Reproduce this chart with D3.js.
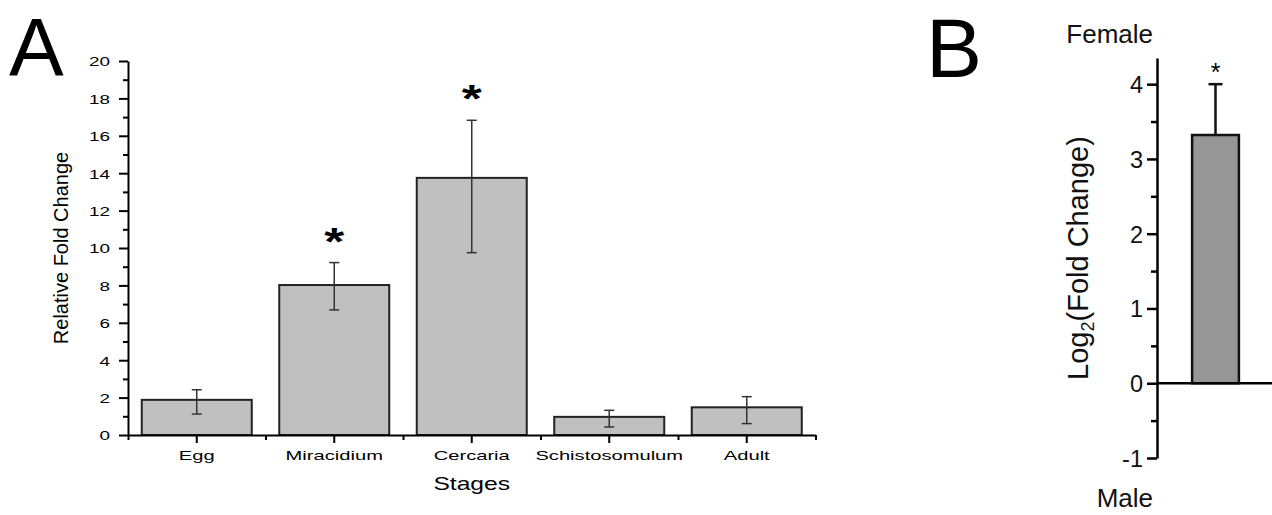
<!DOCTYPE html>
<html>
<head>
<meta charset="utf-8">
<script src="https://cdn.jsdelivr.net/npm/d3@7"></script>
<style>
  body { margin: 0; background: #fff; }
  svg { display: block; font-family: "Liberation Sans", Arial, sans-serif; }
  .axis path, .axis line { stroke: #000; }
</style>
</head>
<body>
<div id="viz"></div>
<script>
// panel A data
var stages = ["Egg", "Miracidium", "Cercaria", "Schistosomulum", "Adult"];
var fold = [1.88, 8.02, 13.75, 0.97, 1.48];
var err_up = [0.54, 1.2, 3.08, 0.35, 0.57];
var err_down = [0.76, 1.33, 4.0, 0.54, 0.87];
var sig = [false, true, true, false, false];
var ticks_a = [0, 2, 4, 6, 8, 10, 12, 14, 16, 18, 20];

// panel B data
var groups_b = ["Female/Male"];
var log2fc = [3.32];
var err_b = [0.68];
var sig_b = [true];
var ticks_b = [-1, 0, 1, 2, 3, 4];

var width = 1272, height = 515;
var svg = d3.select("#viz").append("svg").attr("width", width).attr("height", height);

// text that is wider than the font draws it
function wideText(sel, txt, size, sx, anchor, weight) {
  return sel.append("text")
      .attr("transform", "scale(" + sx + ",1)")
      .style("font-size", size + "px")
      .style("font-weight", weight || "normal")
      .style("fill", "#000")
      .attr("text-anchor", anchor || "middle")
      .text(txt);
}

// ---------- panel A ----------
var xA = d3.scaleBand().domain(stages).range([128, 815.5]).paddingInner(0.2).paddingOuter(0.1);
var xA_minor = d3.scaleLinear().domain([0, stages.length]).range(xA.range());
var yA = d3.scaleLinear().domain([0, 20]).range([435, 61]);

var gA = svg.append("g");

// bars
gA.selectAll(".bar").data(stages).enter().append("rect")
    .attr("class", "bar")
    .attr("x", function(d) { return xA(d); })
    .attr("y", function(d, i) { return yA(fold[i]); })
    .attr("width", xA.bandwidth())
    .attr("height", function(d, i) { return yA(0) - yA(fold[i]); })
    .style("fill", "#c0c0c0")
    .style("stroke", "#222")
    .style("stroke-width", 2);

// error bars
var eb = gA.selectAll(".err").data(stages).enter().append("g")
    .attr("class", "err")
    .attr("transform", function(d) { return "translate(" + (xA(d) + xA.bandwidth() / 2) + ",0)"; })
    .style("stroke", "#333")
    .style("stroke-width", 1.5);
eb.append("line")
    .attr("y1", function(d, i) { return yA(fold[i] - err_down[i]); })
    .attr("y2", function(d, i) { return yA(fold[i] + err_up[i]); });
eb.append("line").attr("x1", -5).attr("x2", 5)
    .attr("y1", function(d, i) { return yA(fold[i] + err_up[i]); })
    .attr("y2", function(d, i) { return yA(fold[i] + err_up[i]); });
eb.append("line").attr("x1", -5).attr("x2", 5)
    .attr("y1", function(d, i) { return yA(fold[i] - err_down[i]); })
    .attr("y2", function(d, i) { return yA(fold[i] - err_down[i]); });

// stars
stages.forEach(function(d, i) {
  if (!sig[i]) return;
  var g = gA.append("g")
      .attr("transform", "translate(" + (xA(d) + xA.bandwidth() / 2) + "," + (yA(fold[i] + err_up[i]) - 8) + ")");
  wideText(g, "*", 38, 1.35, "middle", "bold");
});

// y axis
var yAxisA = gA.append("g").attr("class", "axis")
    .attr("transform", "translate(128,0)")
    .call(d3.axisLeft(yA).tickValues(ticks_a).tickSize(9).tickSizeOuter(0));
yAxisA.selectAll("text").remove();
yAxisA.selectAll(".tick").each(function(d) {
  var t = wideText(d3.select(this).append("g").attr("transform", "translate(-18,0)"), d, 13.5, 1.4, "end");
  t.attr("dy", "0.36em");
});
gA.append("g").attr("class", "axis")
    .attr("transform", "translate(128,0)")
    .call(d3.axisLeft(yA).tickValues(d3.range(1, 20, 2)).tickSize(5).tickFormat("").tickSizeOuter(0))
    .select(".domain").remove();
gA.selectAll(".axis path, .axis line").style("stroke-width", 2);

// x axis
var xAxisA = gA.append("g").attr("class", "axis")
    .attr("transform", "translate(0,435)")
    .call(d3.axisBottom(xA).tickSize(8).tickSizeOuter(0));
xAxisA.selectAll("text").remove();
xAxisA.selectAll(".tick").each(function(d) {
  wideText(d3.select(this).append("g").attr("transform", "translate(0,25)"), d, 13, 1.55, "middle");
});
gA.append("g").attr("class", "axis")
    .attr("transform", "translate(0,435)")
    .call(d3.axisBottom(xA_minor).tickValues(d3.range(0, stages.length + 1)).tickSize(5).tickFormat(""))
    .select(".domain").remove();
gA.selectAll(".axis path, .axis line").style("stroke-width", 2);

// axis titles
wideText(gA.append("g").attr("transform", "translate(" + d3.mean(xA.range()) + ",490)"), "Stages", 18, 1.37, "middle");
gA.append("text")
    .attr("transform", "translate(68," + d3.mean(yA.range()) + ") rotate(-90)")
    .attr("text-anchor", "middle")
    .style("font-size", "20px")
    .text("Relative Fold Change");

svg.append("text").attr("x", 9).attr("y", 75)
    .style("font-size", "82px").text("A");

// ---------- panel B ----------
var yB = d3.scaleLinear().domain([-1, 4.35]).range([458, 58]);
var xB = d3.scaleBand().domain(groups_b).range([1157, 1274]).paddingInner(0.6).paddingOuter(0.3);

var gB = svg.append("g");

gB.selectAll(".bar").data(groups_b).enter().append("rect")
    .attr("class", "bar")
    .attr("x", function(d) { return xB(d); })
    .attr("y", function(d, i) { return yB(log2fc[i]); })
    .attr("width", xB.bandwidth())
    .attr("height", function(d, i) { return yB(0) - yB(log2fc[i]); })
    .style("fill", "#969696")
    .style("stroke", "#111")
    .style("stroke-width", 2.5);

var ebB = gB.selectAll(".err").data(groups_b).enter().append("g")
    .attr("transform", function(d) { return "translate(" + (xB(d) + xB.bandwidth() / 2) + ",0)"; })
    .style("stroke", "#111")
    .style("stroke-width", 2.5);
ebB.append("line")
    .attr("y1", function(d, i) { return yB(log2fc[i]); })
    .attr("y2", function(d, i) { return yB(log2fc[i] + err_b[i]); });
ebB.append("line").attr("x1", -7).attr("x2", 7)
    .attr("y1", function(d, i) { return yB(log2fc[i] + err_b[i]); })
    .attr("y2", function(d, i) { return yB(log2fc[i] + err_b[i]); });

groups_b.forEach(function(d, i) {
  if (!sig_b[i]) return;
  gB.append("text")
      .attr("x", xB(d) + xB.bandwidth() / 2)
      .attr("y", yB(log2fc[i] + err_b[i]) - 3)
      .attr("text-anchor", "middle")
      .style("font-size", "25px")
      .text("*");
});

// baseline at 0
gB.append("line")
    .attr("x1", xB.range()[0]).attr("x2", xB.range()[1])
    .attr("y1", yB(0)).attr("y2", yB(0))
    .style("stroke", "#000").style("stroke-width", 2.5);

var yAxisB = gB.append("g").attr("class", "axis")
    .attr("transform", "translate(1157,0)")
    .call(d3.axisLeft(yB).tickValues(ticks_b).tickSize(10).tickPadding(4).tickSizeOuter(0)
      .tickFormat(function(d) { return String(d); }));
yAxisB.selectAll("text").style("font-size", "23.5px").attr("dy", "0.36em").style("fill", "#111");
gB.append("g").attr("class", "axis")
    .attr("transform", "translate(1157,0)")
    .call(d3.axisLeft(yB).tickValues(d3.range(-0.5, 4, 1)).tickSize(6).tickFormat("").tickSizeOuter(0))
    .select(".domain").remove();
gB.selectAll(".axis path, .axis line").style("stroke-width", 2.5);

var titleB = gB.append("text")
    .attr("transform", "translate(1088,258) rotate(-90)")
    .attr("text-anchor", "middle")
    .style("font-size", "29px")
    .style("fill", "#111");
titleB.append("tspan").text("Log");
titleB.append("tspan").attr("dy", 6).style("font-size", "18px").text("2");
titleB.append("tspan").attr("dy", -6).text("(Fold Change)");

gB.append("text").attr("x", 1153).attr("y", 43).attr("text-anchor", "end")
    .style("font-size", "26px").style("fill", "#111").text("Female");
gB.append("text").attr("x", 1153).attr("y", 507).attr("text-anchor", "end")
    .style("font-size", "26px").style("fill", "#111").text("Male");

svg.append("text").attr("x", 926).attr("y", 77)
    .style("font-size", "84px").text("B");
</script>
</body>
</html>
